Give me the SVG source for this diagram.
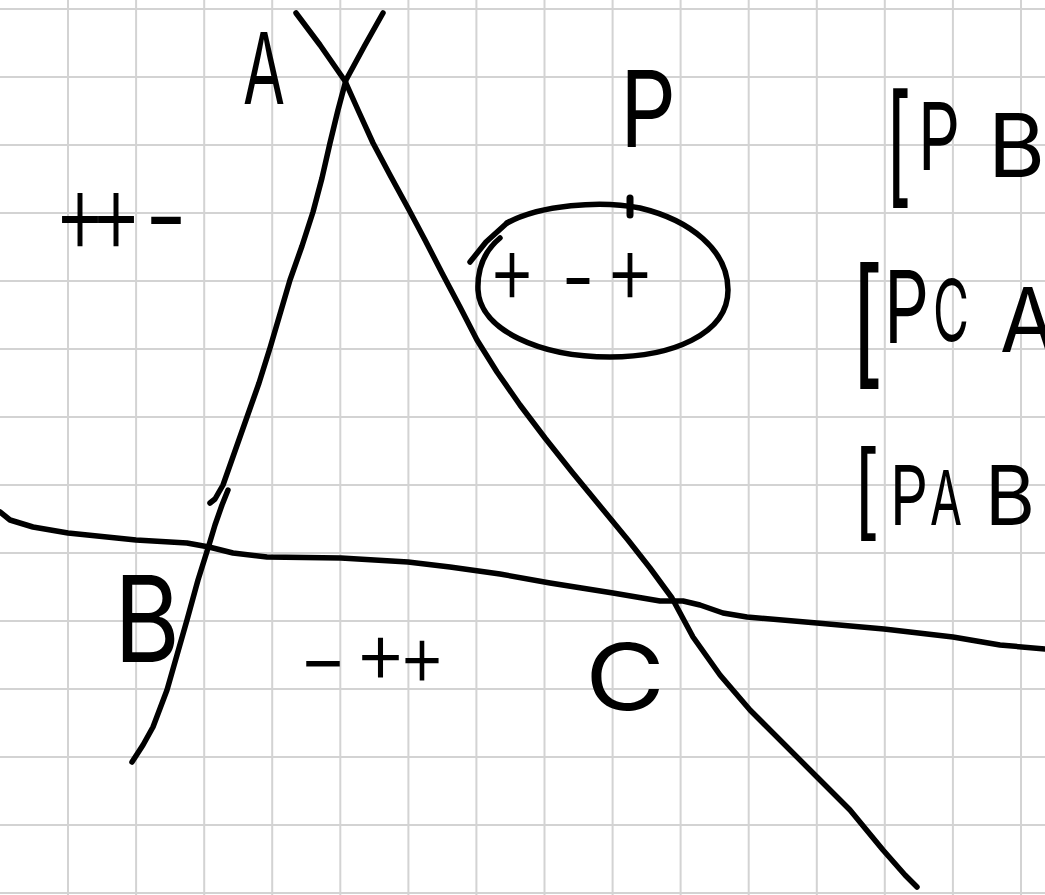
<svg xmlns="http://www.w3.org/2000/svg" width="1045" height="895" viewBox="0 0 1045 895">
<style>
.grid{fill:none;stroke:#d3d3d3;stroke-width:2}
.ink{fill:none;stroke:#000;stroke-width:5.5;stroke-linecap:round;stroke-linejoin:round}
.hw{font-family:Inter,"Liberation Sans",sans-serif;font-weight:400;fill:#000}
.sg{font-family:Inter,"Liberation Sans",sans-serif;font-weight:300;fill:#000}
</style>
<rect width="1045" height="895" fill="#fff"/>
<g id="grid">
<path class="grid" d="M68,0V895M136.1,0V895M204.2,0V895M272.2,0V895M340.3,0V895M408.4,0V895M476.4,0V895M544.5,0V895M612.6,0V895M680.6,0V895M748.7,0V895M816.8,0V895M884.8,0V895M952.9,0V895M1021,0V895"/>
<path class="grid" d="M0,9H1045M0,77H1045M0,145H1045M0,213H1045M0,281H1045M0,349H1045M0,417H1045M0,485H1045M0,553H1045M0,621H1045M0,689H1045M0,757H1045M0,825H1045M0,893H1045"/>
</g>
<g id="lines">
<path id="line-AB-upper" class="ink" d="M383,13 L365,45 L346,80 L338,110 L330,143 L322,178 L313,212 L302,246 L290,280 L280,314 L270,348 L259,383 L247,417 L235,451 L223,485 L215,499 L210,503"/>
<path id="line-AB-lower" class="ink" d="M228,490 L222,505 L215,525 L209,545 L198,580 L187,620 L177,655 L167,690 L153,727 L143,745 L132,762"/>
<path id="line-AC" class="ink" d="M296,13 L320,45 L345,81 L358,110 L373,143 L390,175 L408,208 L425,240 L442,273 L460,307 L477,340 L497,372 L520,405 L545,438 L572,472 L600,506 L628,540 L650,568 L672,598 L693,637 L720,675 L750,710 L767,727 L817,777 L850,810 L883,850 L905,875 L917,887"/>
<path id="line-BC" class="ink" d="M0,512 L10,520 L33,527 L68,533 L136,540 L187,543 L209,547 L233,553 L267,557 L341,558 L408,562 L450,567 L500,574 L550,583 L613,593 L660,601 L683,601 L700,605 L723,613 L747,617 L817,623 L884,629 L953,637 L1000,645 L1045,649"/>
</g>
<g id="region-P">
<path class="ink" d="M507,223 C540,205 600,200 640,208 C690,220 728,250 728,290 C728,335 670,357 610,357 C540,357 480,330 478,290 C477,265 488,248 500,238"/>
<path class="ink" d="M470,262 L486,242 L507,223"/>
<path class="ink" style="stroke-width:7" d="M630,198 L630,215"/>
</g>
<g id="labels">
<text class="hw" x="243" y="104" font-size="99" textLength="42" lengthAdjust="spacingAndGlyphs">A</text>
<text class="hw" x="620" y="147" font-size="106" textLength="56" lengthAdjust="spacingAndGlyphs">P</text>
<text class="hw" x="114" y="662" font-size="120" textLength="66" lengthAdjust="spacingAndGlyphs">B</text>
<text class="hw" x="585" y="710" font-size="92" textLength="80" lengthAdjust="spacingAndGlyphs">C</text>
<text class="sg" font-size="118"><tspan x="54" y="253" textLength="52" lengthAdjust="spacingAndGlyphs">+</tspan><tspan x="90" y="253" textLength="52" lengthAdjust="spacingAndGlyphs">+</tspan><tspan x="144" y="257" textLength="44" lengthAdjust="spacingAndGlyphs">-</tspan></text>
<text class="sg" font-size="98"><tspan x="488" y="303" textLength="48" lengthAdjust="spacingAndGlyphs">+</tspan><tspan x="561" y="311" textLength="34" lengthAdjust="spacingAndGlyphs">-</tspan><tspan x="605" y="303" textLength="50" lengthAdjust="spacingAndGlyphs">+</tspan></text>
<text class="sg" font-size="88"><tspan x="298" y="691" textLength="50" lengthAdjust="spacingAndGlyphs">-</tspan><tspan x="354" y="683" textLength="53" lengthAdjust="spacingAndGlyphs">+</tspan><tspan x="398" y="686" textLength="48" lengthAdjust="spacingAndGlyphs">+</tspan></text>
</g>
<g id="notes">
<text class="hw"><tspan x="885" y="190" font-size="132" textLength="27" lengthAdjust="spacingAndGlyphs">[</tspan><tspan x="918" y="170" font-size="94" textLength="42" lengthAdjust="spacingAndGlyphs">P</tspan><tspan x="988" y="177" font-size="88" textLength="57" lengthAdjust="spacingAndGlyphs">B</tspan></text>
<text class="hw"><tspan x="850" y="370" font-size="140" textLength="34" lengthAdjust="spacingAndGlyphs">[</tspan><tspan x="884" y="343" font-size="100" textLength="45" lengthAdjust="spacingAndGlyphs">P</tspan><tspan x="933" y="341" font-size="85" textLength="36" lengthAdjust="spacingAndGlyphs">C</tspan><tspan x="1000" y="352" font-size="90" textLength="56" lengthAdjust="spacingAndGlyphs">A</tspan></text>
<text class="hw"><tspan x="853" y="527" font-size="105" textLength="27" lengthAdjust="spacingAndGlyphs">[</tspan><tspan x="890" y="525" font-size="83" textLength="38" lengthAdjust="spacingAndGlyphs">P</tspan><tspan x="930" y="525" font-size="76" textLength="32" lengthAdjust="spacingAndGlyphs">A</tspan><tspan x="985" y="525" font-size="83" textLength="50" lengthAdjust="spacingAndGlyphs">B</tspan></text>
</g>
</svg>
